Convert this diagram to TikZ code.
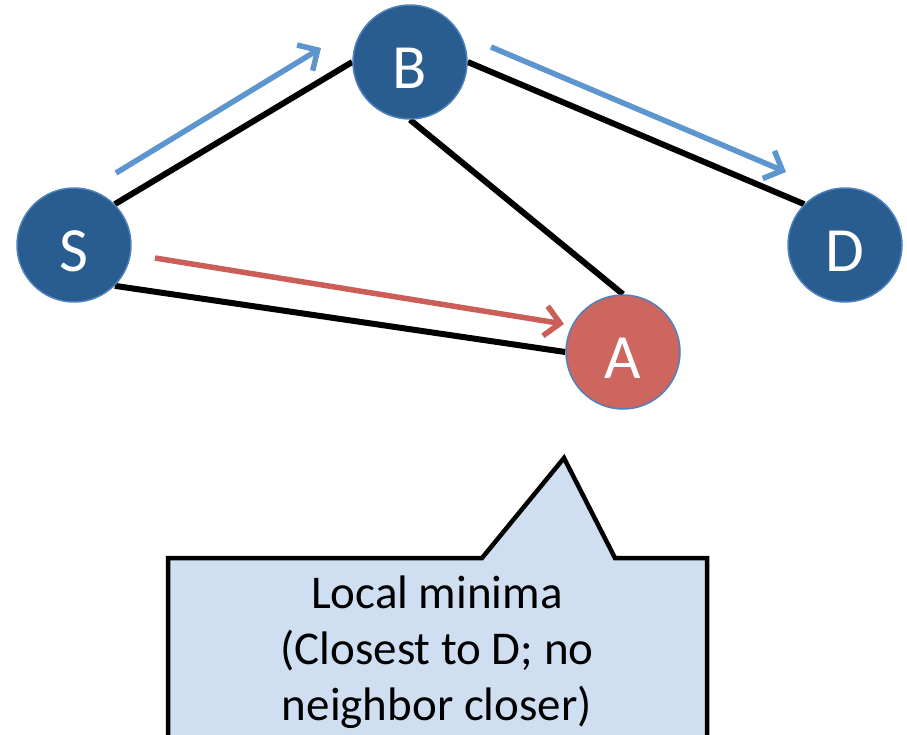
\documentclass[tikz,border=0pt]{standalone}
\usepackage{fontspec}
\setmainfont{Carlito}
\usetikzlibrary{arrows.meta,backgrounds}
\definecolor{nodeblue}{RGB}{41,93,143}
\definecolor{rimblue}{RGB}{79,129,189}
\definecolor{nodered}{RGB}{205,102,94}
\definecolor{pathblue}{RGB}{93,150,206}
\definecolor{pathred}{RGB}{203,94,88}
\definecolor{notefill}{RGB}{207,223,241}
\tikzset{
  vertex/.style={circle, minimum size=114pt, inner sep=0pt, draw=rimblue,
    line width=1.5pt, text=white, text height=52pt, text depth=0pt,
    font=\fontsize{63}{63}\selectfont},
  link/.style={line width=6pt, black},
  hop/.style={line width=5.5pt, -{Straight Barb[length=15pt,width=30pt]}},
}
\begin{document}
\begin{tikzpicture}[x=1pt,y=-1pt]
  \clip (0,0) rectangle (907,734);

  % graph vertices
  \node[vertex, fill=nodeblue] (S) at (74,245) {S};
  \node[vertex, fill=nodeblue] (B) at (410,62) {B};
  \node[vertex, fill=nodeblue] (D) at (845,245) {D};
  \node[vertex, fill=nodered]  (A) at (623,352) {A};

  % graph edges, kept behind the vertices
  \begin{scope}[on background layer]
    \fill[white] (0,0) rectangle (907,734);
    \draw[link] (S.north east) -- (B.west);
    \draw[link] (S.south east) -- (A.west);
    \draw[link] (B.south) -- (A.north);
    \draw[link] (B.east) -- (D.north west);
  \end{scope}

  % greedy forwarding paths
  \coordinate (sb0) at (116,173);
  \coordinate (sb1) at (321,48);
  \coordinate (bd0) at (491,47);
  \coordinate (bd1) at (786,172);
  \coordinate (sa0) at (155,258);
  \coordinate (sa1) at (564,324);
  \draw[hop, pathblue] (sb0) -- (sb1);
  \draw[hop, pathblue] (bd0) -- (bd1);
  \draw[hop, pathred] (sa0) -- (sa1);

  % callout pointing at A
  \coordinate (tip) at (564,458);
  \draw[fill=notefill, line width=4.5pt, line join=miter]
    (168,760) -- (168,558) -- (482,558) -- (tip) -- (615,558)
    -- (707,558) -- (707,760) -- cycle;
  \node[align=center, font=\fontsize{47}{56}\selectfont, anchor=base]
    (note) at (437,720)
    {Local minima\\(Closest to D; no\\neighbor closer)};
\end{tikzpicture}
\end{document}
